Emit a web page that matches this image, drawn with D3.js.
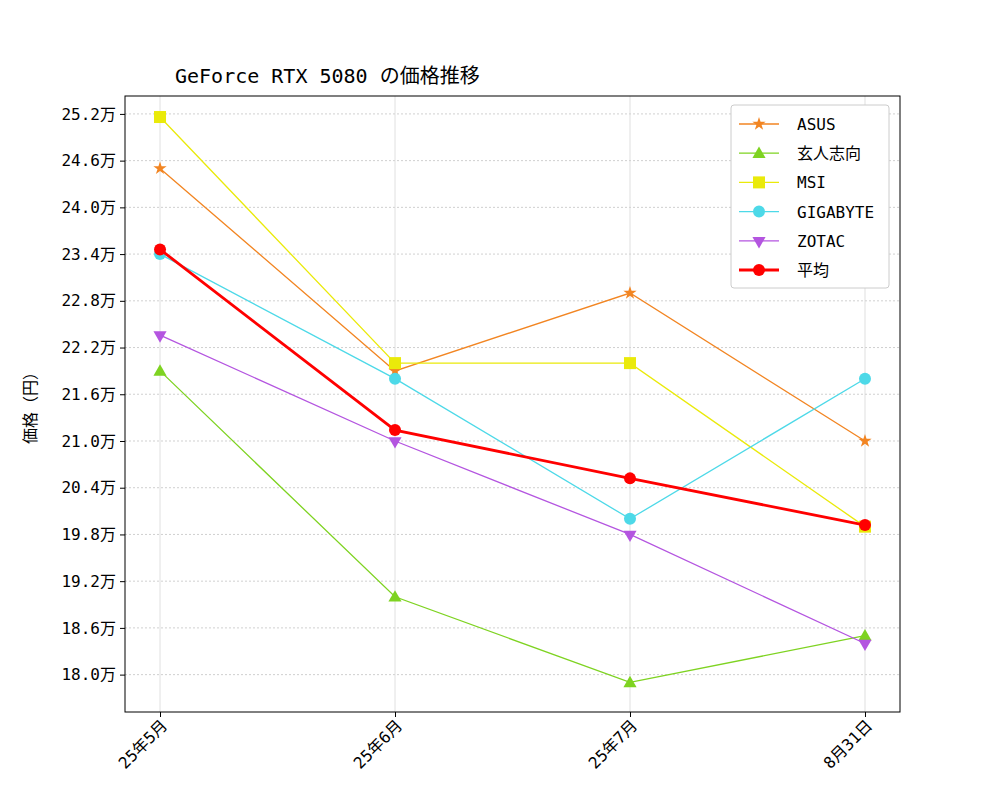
<!DOCTYPE html>
<html><head><meta charset="utf-8">
<script src="https://cdn.jsdelivr.net/npm/d3@7"></script>
<style>body{margin:0;background:#fff}text{font-family:"DejaVu Sans Mono","Noto Sans CJK JP",monospace}</style>
</head><body><svg id="c" width="1000" height="800"></svg>
<script>
const categories=["25年5月","25年6月","25年7月","8月31日"];
const asus=[24.5,21.9,22.9,21.0];
const kuroto=[21.9,19.0,17.9,18.5];
const msi=[25.16,22.0,22.0,19.9];
const gigabyte=[23.4,21.8,20.0,21.8];
const zotac=[22.36,21.0,19.8,18.4];
const avg=[23.46,21.14,20.52,19.92];
const yTicks=[18.0,18.6,19.2,19.8,20.4,21.0,21.6,22.2,22.8,23.4,24.0,24.6,25.2];
const series=[
 {name:"ASUS",v:asus,c:"#f28522",m:"star",w:1.3},
 {name:"玄人志向",v:kuroto,c:"#7ed321",m:"tri",w:1.3},
 {name:"MSI",v:msi,c:"#eaea0a",m:"sq",w:1.3},
 {name:"GIGABYTE",v:gigabyte,c:"#4dd9e8",m:"circ",w:1.3},
 {name:"ZOTAC",v:zotac,c:"#b455e0",m:"tridown",w:1.3},
 {name:"平均",v:avg,c:"#ff0000",m:"circ",w:2.8}
];
const L=125,R=900,T=96,B=712;
const svg=d3.select("#c");
const x=d3.scalePoint().domain(categories).range([L,R]).padding(0.149);
const y=d3.scaleLinear().domain([17.52,25.43]).range([B,T]);
const g=svg.append("g");
g.selectAll(".hg").data(yTicks).join("line").attr("x1",L).attr("x2",R).attr("y1",d=>y(d)).attr("y2",d=>y(d)).attr("stroke","#b0b0b0").attr("stroke-width",0.6).attr("stroke-dasharray","2,2");
g.selectAll(".vg").data(categories).join("line").attr("x1",d=>x(d)).attr("x2",d=>x(d)).attr("y1",T).attr("y2",B).attr("stroke","#d8d8d8").attr("stroke-width",0.8);
const ya=svg.append("g").attr("transform",`translate(${L},0)`).call(d3.axisLeft(y).tickValues(yTicks).tickFormat(d=>d.toFixed(1)+"万").tickSize(5).tickPadding(4));
const xa=svg.append("g").attr("transform",`translate(0,${B})`).call(d3.axisBottom(x).tickSize(5));
[ya,xa].forEach(a=>{a.select(".domain").remove();a.selectAll("text").attr("font-size",16).attr("fill","#000").style("font-family",'"DejaVu Sans Mono","Noto Sans CJK JP"');a.selectAll("line").attr("stroke","#000");});
xa.selectAll("text").attr("text-anchor","end").attr("transform","rotate(-45)").attr("dx","-0.3em").attr("dy","0.5em");
svg.append("rect").attr("x",L).attr("y",T).attr("width",R-L).attr("height",B-T).attr("fill","none").attr("stroke","#000").attr("stroke-width",1);
function marker(sel,m,c){
 if(m==="circ")sel.append("circle").attr("r",6).attr("fill",c);
 else if(m==="sq")sel.append("rect").attr("x",-6).attr("y",-6).attr("width",12).attr("height",12).attr("fill",c);
 else if(m==="star")sel.append("path").attr("d",d3.symbol().type(d3.symbolStar).size(55)()).attr("fill",c);
 else sel.append("path").attr("d",d3.symbol().type(d3.symbolTriangle).size(75)()).attr("fill",c).attr("transform",m==="tridown"?"rotate(180)":"translate(0,1)");
}
const line=d3.line().x((d,i)=>x(categories[i])).y(d=>y(d));
series.forEach(s=>{
 svg.append("path").datum(s.v).attr("d",line).attr("fill","none").attr("stroke",s.c).attr("stroke-width",s.w);
 s.v.forEach((v,i)=>{const mg=svg.append("g").attr("transform",`translate(${x(categories[i])},${y(v)})`);marker(mg,s.m,s.c);});
});
const lg=svg.append("g").attr("transform","translate(731,105)");
lg.append("rect").attr("width",158).attr("height",183).attr("rx",3).attr("fill","#fff").attr("stroke","#ccc");
series.forEach((s,i)=>{
 const yy=19+i*29.2;
 lg.append("line").attr("x1",8).attr("x2",48).attr("y1",yy).attr("y2",yy).attr("stroke",s.c).attr("stroke-width",s.w);
 const mg=lg.append("g").attr("transform",`translate(28,${yy})`);marker(mg,s.m,s.c);
 lg.append("text").attr("x",66).attr("y",yy+6).attr("font-size",16).text(s.name);
});
svg.append("text").attr("x",175).attr("y",83).attr("font-size",20).text("GeForce RTX 5080 の価格推移");
svg.append("text").attr("transform",`translate(36,${(T+B)/2}) rotate(-90)`).attr("text-anchor","middle").attr("font-size",16).text("価格（円）");
</script></body></html>
